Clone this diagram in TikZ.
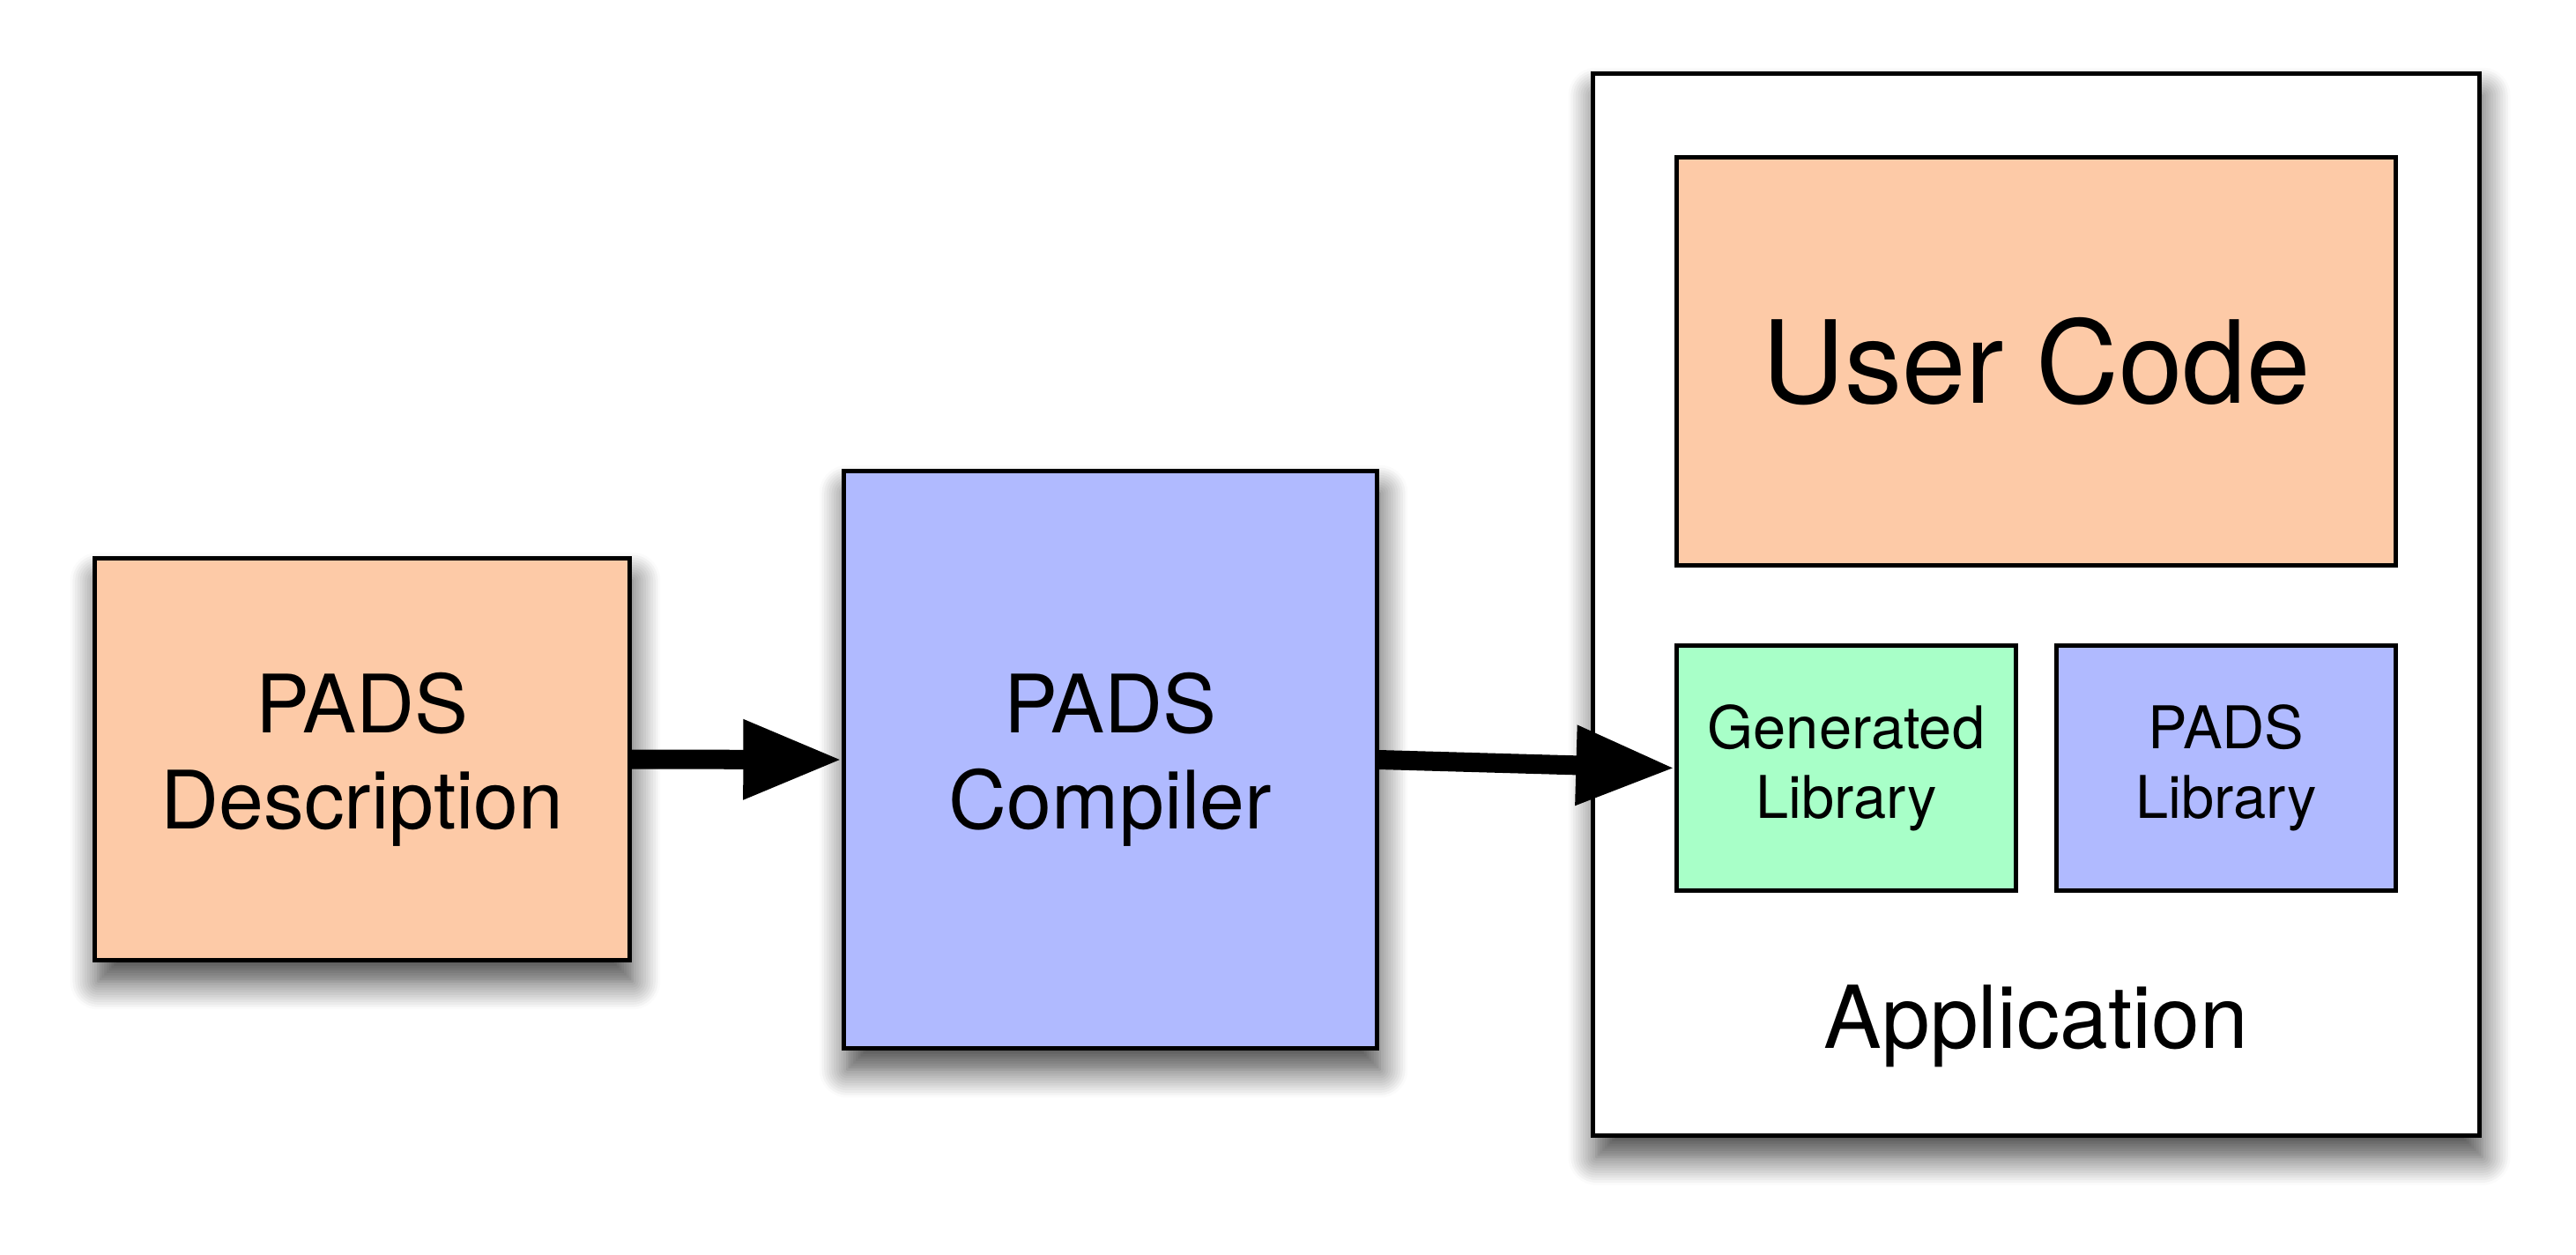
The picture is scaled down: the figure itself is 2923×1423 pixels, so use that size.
\documentclass[tikz,border=0pt]{standalone}
\usepackage{fontspec}
\setmainfont{TeX Gyre Heros}
\usetikzlibrary{arrows.meta,shadows.blur}
\definecolor{peach}{RGB}{253,202,167}
\definecolor{lavender}{RGB}{176,186,255}
\definecolor{mint}{RGB}{168,255,200}
\tikzset{
  box/.style={draw=black, line width=1.4pt, rectangle, align=center, inner sep=0pt},
  shad/.style={blur shadow={shadow xshift=1pt, shadow yshift=-7pt, shadow blur radius=9pt, shadow blur steps=12, shadow opacity=75}},
  bigarrow/.style={line width=0.22cm, -{Triangle[length=1.12cm, width=0.85cm]}},
  midfont/.style={font=\fontsize{26}{31}\selectfont},
  smallfont/.style={font=\fontsize{19}{22.5}\selectfont},
}
\begin{document}
\begin{tikzpicture}[x=0.01cm, y=-0.01cm]
\useasboundingbox (0,0) rectangle (2923,1423);
\node[box, shad, fill=peach, minimum width=6.06cm, minimum height=4.55cm, midfont] (desc) at (411,861.5) {PADS\\Description};
\node[box, shad, fill=lavender, minimum width=6.04cm, minimum height=6.54cm, midfont] (comp) at (1260,862) {PADS\\Compiler};
\node[box, shad, fill=white, minimum width=10.05cm, minimum height=12.04cm] (app) at (2310.5,686) {};
\node[box, fill=peach, minimum width=8.15cm, minimum height=4.62cm, font=\fontsize{37}{43}\selectfont] (user) at (2310.5,410) {User Code};
\node[box, fill=mint, minimum width=3.84cm, minimum height=2.77cm, smallfont] (gen) at (2095,871.5) {Generated\\Library};
\node[box, fill=lavender, minimum width=3.84cm, minimum height=2.77cm, smallfont] (plib) at (2526,871.5) {PADS\\Library};
\node[anchor=base, inner sep=0pt, font=\fontsize{28}{33}\selectfont] (applbl) at (2310.5,1189) {Application};
\draw[bigarrow] (desc.east) -- (comp.west);
\draw[bigarrow] (comp.east) -- (gen.west);
\end{tikzpicture}
\end{document}
